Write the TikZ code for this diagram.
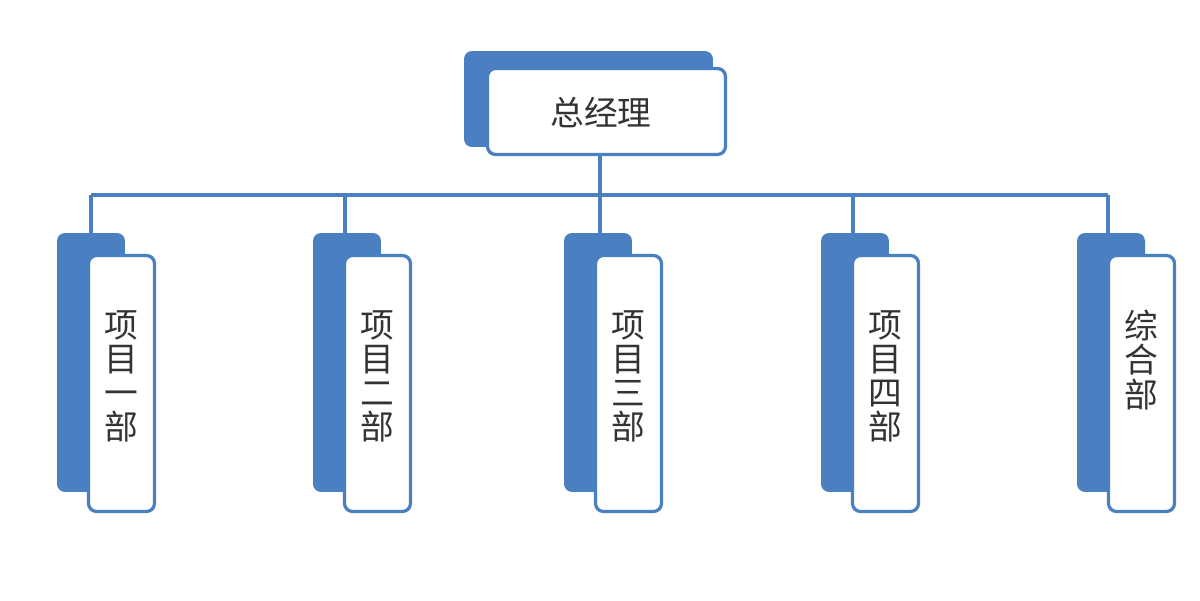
\documentclass[tikz,border=0pt]{standalone}
\usepackage{fontspec}
\setmainfont{Noto Sans CJK SC}
\usetikzlibrary{positioning}
\definecolor{orgblue}{RGB}{74,127,193}
\definecolor{orgtext}{RGB}{51,51,51}
\tikzset{
    backbox/.style={fill=orgblue, rounded corners=0.16cm, inner sep=0, outer sep=0, anchor=north west},
    frontbox/.style={draw=orgblue, line width=0.065cm, fill=white, rounded corners=0.16cm, inner sep=0, outer sep=0, anchor=north west},
    linkline/.style={draw=orgblue, line width=0.065cm},
    orglabel/.style={font=\fontsize{19.2}{19.4}\selectfont, text=orgtext, align=center, inner sep=0}
}
% #1 name, #2 left of back panel, #3 x of the bus drop, #4 label
\newcommand{\drawdept}[4]{
    % Panels
    \node[backbox, minimum width=1.36cm, minimum height=5.18cm] (#1b) at (#2,233) {};
    \node[frontbox, minimum width=1.32cm, minimum height=5.12cm] (#1f) at ({#2+31.5},255.5) {};
    \node[orglabel, anchor=north] (#1t) at ({#2+64},310) {#4};

    % Drop from the bus
    \coordinate (#1bus) at (#3,195);
    \draw[linkline] (#1bus) -- (#1bus |- #1b.north);
}

\begin{document}
\begin{tikzpicture}[x=0.02cm, y=-0.02cm]
        \useasboundingbox[fill=white] (0,0) rectangle (1200,600);

        % Top box
        \node[backbox, minimum width=4.98cm, minimum height=1.92cm] (topb) at (464,51) {};
        \node[frontbox, minimum width=4.76cm, minimum height=1.72cm] (topf) at (487.5,68.5) {};
        \node[orglabel] (topt) at (601,112) {总经理};

        % Departments
        \drawdept{d1}{57}{91}{项\\目\\一\\部}
        \drawdept{d2}{313}{345}{项\\目\\二\\部}
        \drawdept{d3}{564}{600}{项\\目\\三\\部}
        \drawdept{d4}{821}{853}{项\\目\\四\\部}
        \drawdept{d5}{1077}{1108}{综\\合\\部}

        % Bus
        \draw[linkline] (d1bus) -- (d5bus);
        \draw[linkline] (d3bus) -- (d3bus |- topf.south);

    \end{tikzpicture}
\end{document}
